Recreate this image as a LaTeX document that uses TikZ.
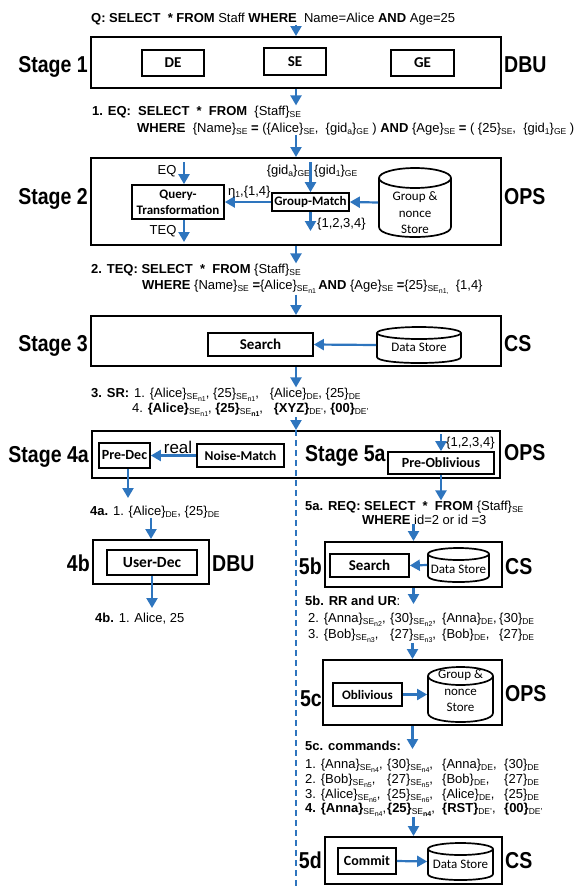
\documentclass[tikz,border=0pt]{standalone}
\usepackage{fontspec}
\setmainfont{Liberation Sans}
\newfontfamily\calf{Carlito}
\newfontfamily\stgf[FakeStretch=0.85]{Liberation Sans}
\usetikzlibrary{arrows.meta}
\definecolor{arrblue}{RGB}{46,117,190}
\newcommand\sbx[1]{\raisebox{-2.6pt}{\fontsize{8.5}{9}\selectfont #1}}
\newcommand\sbxx[2]{\raisebox{-2.6pt}{\fontsize{8.5}{9}\selectfont #1\raisebox{-2pt}{\fontsize{7}{7}\selectfont #2}}}
\newcommand\boxnode[7]{%
  \node[#1, minimum width={#5-#3}, minimum height={#6-#4}] (#2) at ({(#3+#5)/2},{(#4+#6)/2}) {#7};}
\newcommand\cylnode[6]{%
  \node[minimum width={#4-#2}, minimum height={#5-#3}, inner sep=0, outer sep=0.9pt] (#1) at ({(#2+#4)/2},{(#3+#5)/2}) {};
  \draw[line width=1.7pt] (#2,{#3+#6}) -- (#2,{#5-#6}) .. controls (#2,{#5+#6/3}) and (#4,{#5+#6/3}) .. (#4,{#5-#6}) -- (#4,{#3+#6});
  \draw[line width=1.7pt] ({(#2+#4)/2},{#3+#6}) ellipse [x radius={(#4-#2)/2}, y radius=#6];}
\begin{document}
\begin{tikzpicture}[x=1pt,y=-1pt,
  outer/.style={draw, line width=2pt, inner sep=0},
  inner/.style={draw, line width=1.7pt, inner sep=0, align=center},
  bfs/.style={font=\calf\bfseries\fontsize{#1}{16}\selectfont},
  arr/.style={draw=arrblue, line width=2.2pt, -{Triangle[length=10pt,width=11pt]}},
  stg/.style={font=\stgf\bfseries\fontsize{23}{26}\selectfont, inner sep=0},
  txt/.style={font=\fontsize{13}{15}\selectfont, inner sep=0, anchor=base west},
  lbl/.style={font=\fontsize{13}{15}\selectfont, inner sep=0},
  cyltxt/.style={font=\calf\fontsize{13}{16.5}\selectfont, align=center, inner sep=0},
  dsh/.style={draw=arrblue, line width=1.6pt, dash pattern=on 6pt off 4pt}]
\useasboundingbox (0,0) rectangle (576,887);

% ---------- query ----------
\node[txt] (q) at (91,22) {\textbf{Q: SELECT~~* FROM} Staff \textbf{WHERE}~~Name=Alice \textbf{AND} Age=25};

% ---------- Stage 1 ----------
\boxnode{outer}{s1}{91}{37}{501}{88}{}
\node[stg, anchor=base east] (s1l) at (88,72) {Stage 1};
\node[stg, anchor=base west] (s1r) at (504,72) {DBU};
\boxnode{inner,bfs=15}{de}{142}{50}{204}{76}{DE}
\boxnode{inner,bfs=15}{se}{264}{48}{326}{75}{SE}
\boxnode{inner,bfs=15}{ge}{391}{50}{454}{76}{GE}
\draw[arr] (q.south -| s1.north) -- (s1.north);

% ---------- EQ ----------
\node[txt] (eq1) at (92,115) {\textbf{1. EQ:~~SELECT~~*~~FROM}~~\{Staff\}\sbx{SE}};
\node[txt] (eq2) at (137,132) {\textbf{WHERE}~~\{Name\}\sbx{SE} \textbf{=} (\{Alice\}\sbx{SE},~~\{gid\sbx{a}\}\sbx{GE} ) \textbf{AND} \{Age\}\sbx{SE} \textbf{=} ( \{25\}\sbx{SE},~~\{gid\sbx{1}\}\sbx{GE} )};
\draw[arr] (s1.south) -- (s1.south |- eq1.north);

% ---------- Stage 2 ----------
\boxnode{outer}{s2}{91}{158}{501}{245}{}
\draw[arr] (s2.north |- eq2.south) -- (s2.north);
\node[stg, anchor=base east] (s2l) at (88,204) {Stage 2};
\node[stg, anchor=base west] (s2r) at (504,204) {OPS};
\boxnode{inner,bfs=13}{qt}{132}{185}{224}{219}{Query-\\Transformation}
\node[lbl] (eql) at (167,171) {EQ};
\coordinate (eqa) at (184,162);
\draw[arr] (eqa) -- (eqa |- qt.north);
\node[lbl] (teql) at (163,231) {TEQ};
\coordinate (teqa) at (184,242);
\draw[arr] (teqa |- qt.south) -- (teqa);
\boxnode{inner,bfs=13}{gm}{272}{193}{349}{211}{Group-Match}
\draw[arr] (gm.west) -- (qt.east);
\node[lbl, anchor=base west] (eta) at (228,195) {η\sbx{1},\{1,4\}};
\node[lbl, anchor=base east] (gida) at (310,174) {\{gid\sbx{a}\}\sbx{GE}};
\node[lbl, anchor=base west] (gid1) at (314,174) {\{gid\sbx{1}\}\sbx{GE}};
\coordinate (gma) at (312,162);
\draw[arr] (gm.north |- gma) -- (gm.north);
\coordinate (gmb) at (312,231);
\draw[arr] (gm.south) -- (gm.south |- gmb);
\node[lbl, anchor=base west] (gml) at (317,227) {\{1,2,3,4\}};
\cylnode{gs2}{379}{168}{451}{237}{10}
\node[cyltxt] (gs2t) at (415,213) {Group \&\\nonce\\Store};
\draw[arr] (gs2.west) -- (gm.east);

% ---------- TEQ ----------
\node[txt] (teq1) at (91,273) {\textbf{2. TEQ: SELECT~~*~~FROM} \{Staff\}\sbx{SE}};
\node[txt] (teq2) at (142,289) {\textbf{WHERE} \{Name\}\sbx{SE} \textbf{=}\{Alice\}\sbxx{SE}{n1}\,\textbf{AND} \{Age\}\sbx{SE} \textbf{=}\{25\}\sbxx{SE}{n1,}~~\{1,4\}};
\draw[arr] (s2.south) -- (s2.south |- teq1.north);

% ---------- Stage 3 ----------
\boxnode{outer}{s3}{91}{316}{501}{366}{}
\draw[arr] (s3.north |- teq2.south) -- (s3.north);
\node[stg, anchor=base east] (s3l) at (88,351) {Stage 3};
\node[stg, anchor=base west] (s3r) at (504,351) {CS};
\boxnode{inner,bfs=15}{sr3}{208}{333}{313}{356}{Search}
\cylnode{ds3}{377}{327}{461}{363}{6}
\node[cyltxt] (ds3t) at (419,347) {Data Store};
\draw[arr] (ds3.west) -- (sr3.east);

% ---------- SR ----------
\node[txt] (sr0) at (91,397) {\textbf{3. SR:}};
\node[txt] (sr1) at (134,397) {1. \{Alice\}\sbxx{SE}{n1}, \{25\}\sbxx{SE}{n1},~~~\{Alice\}\sbx{DE}, \{25\}\sbx{DE}};
\node[txt] (sr2) at (132,412) {4. \textbf{\{Alice\}}\sbxx{SE}{n1}, \textbf{\{25\}}\sbxx{SE}{\textbf{n1}},~~~\textbf{\{XYZ\}}\sbx{DE'}, \textbf{\{00\}}\sbx{DE'}};
\draw[arr] (s3.south) -- (s3.south |- sr1.north);

% ---------- Stage 4a / 5a ----------
\boxnode{outer}{s45}{92}{431}{500}{478}{}
\coordinate (dtop) at (296,417);
\coordinate (dbot) at (296,887);
\draw[arr, dash pattern=on 6pt off 4pt] (dtop) -- (s45.north);
\draw[dsh] (s45.north) -- (dbot);
\node[stg, anchor=base east] (s4l) at (89,462) {Stage 4a};
\node[stg, anchor=base west] (s5l) at (305,461) {Stage 5a};
\node[stg, anchor=base west] (s45r) at (504,460) {OPS};
\boxnode{inner,bfs=14}{pd}{99}{443}{150}{468}{Pre-Dec}
\boxnode{inner,bfs=13.5}{nm}{197}{444}{284}{467}{Noise-Match}
\draw[arr] (nm.west) -- (pd.east) node[pos=0.4, anchor=south, inner sep=0.5pt, font=\fontsize{17}{17}\selectfont] (real) {real};
\boxnode{inner,bfs=14}{po}{388}{452}{494}{474}{Pre-Oblivious}
\coordinate (poa) at (441,434);
\draw[arr] (poa) -- (po.north);
\node[lbl, anchor=base west] (pol) at (446,446) {\{1,2,3,4\}};

% ---------- 4a / 4b ----------
\coordinate (pda) at (128,498);
\draw[arr] (pda |- pd.south) -- (pda);
\node[txt] (t4a) at (90,515) {\textbf{4a.} 1. \{Alice\}\sbx{DE}, \{25\}\sbx{DE}};
\boxnode{outer}{b4}{93}{540}{209}{584}{}
\draw[arr] (b4.north |- t4a.south) -- (b4.north);
\node[stg, anchor=base east] (b4l) at (90,571) {4b};
\node[stg, anchor=base west] (b4r) at (212,571) {DBU};
\boxnode{inner,bfs=15.5}{ud}{107}{550}{197}{575}{User-Dec}
\coordinate (uda) at (152,608);
\draw[arr] (ud.south) -- (ud.south |- uda);
\node[txt] (t4b) at (95,622) {\textbf{4b.} 1. Alice, 25};

% ---------- 5a REQ / 5b ----------
\node[txt] (req1) at (305,510) {\textbf{5a. REQ: SELECT~~*~~FROM} \{Staff\}\sbx{SE}};
\node[txt] (req2) at (362,524) {\textbf{WHERE} id=2 or id =3};
\draw[arr] (po.south) -- (po.south |- req1.north);
\boxnode{outer}{b5}{325}{542}{502}{587}{}
\draw[arr] (b5.north |- req2.south) -- (b5.north);
\node[stg, anchor=base east] (b5l) at (322,574) {5b};
\node[stg, anchor=base west] (b5r) at (505,574) {CS};
\boxnode{inner,bfs=15}{sr5}{330}{554}{409}{577}{Search}
\cylnode{ds5}{428}{548}{489}{582}{6}
\node[cyltxt] (ds5t) at (458.5,569) {Data Store};
\draw[arr] (ds5.west) -- (sr5.east);

% ---------- 5b RR and UR ----------
\coordinate (b5a) at (413,604);
\draw[arr] (b5.south) -- (b5.south |- b5a);
\node[txt] (rr0) at (305,605) {\textbf{5b. RR and UR}:};
\node[txt] (rr2a) at (308,622) {2. \{Anna\}\sbxx{SE}{n2},};
\node[txt] (rr2b) at (390,622) {\{30\}\sbxx{SE}{n2},};
\node[txt] (rr2c) at (442,622) {\{Anna\}\sbx{DE},};
\node[txt] (rr2d) at (499,622) {\{30\}\sbx{DE}};
\node[txt] (rr3a) at (308,638) {3. \{Bob\}\sbxx{SE}{n3},};
\node[txt] (rr3b) at (390,638) {\{27\}\sbxx{SE}{n3},};
\node[txt] (rr3c) at (442,638) {\{Bob\}\sbx{DE},};
\node[txt] (rr3d) at (499,638) {\{27\}\sbx{DE}};

% ---------- 5c ----------
\boxnode{outer}{b5c}{323}{660}{502}{725}{}
\draw[arr] (b5c.north |- rr3b.south) -- (b5c.north);
\node[stg, anchor=base east] (b5cl) at (322,706) {5c};
\node[stg, anchor=base west] (b5cr) at (505,701) {OPS};
\boxnode{inner,bfs=13}{ob}{333}{683}{402}{706}{Oblivious}
\cylnode{gs5}{428}{667}{493}{722}{9}
\node[cyltxt] (gs5t) at (460.5,691) {Group \&\\nonce\\Store};
\draw[arr] (ob.east) -- (gs5.west);
\coordinate (b5ca) at (413,749);
\draw[arr] (b5c.south) -- (b5c.south |- b5ca);

% ---------- 5c commands ----------
\node[txt] (cm0) at (305,750) {\textbf{5c. commands:}};
\node[txt] (c1a) at (305,768) {1. \{Anna\}\sbxx{SE}{n4},};
\node[txt] (c1b) at (387,768) {\{30\}\sbxx{SE}{n4},};
\node[txt] (c1c) at (442,768) {\{Anna\}\sbx{DE},};
\node[txt] (c1d) at (504,768) {\{30\}\sbx{DE}};
\node[txt] (c2a) at (305,783) {2. \{Bob\}\sbxx{SE}{n5},};
\node[txt] (c2b) at (387,783) {\{27\}\sbxx{SE}{n5},};
\node[txt] (c2c) at (442,783) {\{Bob\}\sbx{DE},};
\node[txt] (c2d) at (504,783) {\{27\}\sbx{DE}};
\node[txt] (c3a) at (305,798) {3. \{Alice\}\sbxx{SE}{n6},};
\node[txt] (c3b) at (387,798) {\{25\}\sbxx{SE}{n6},};
\node[txt] (c3c) at (442,798) {\{Alice\}\sbx{DE},};
\node[txt] (c3d) at (504,798) {\{25\}\sbx{DE}};
\node[txt] (c4a) at (305,812) {\textbf{4. \{Anna\}}\sbxx{SE}{n4},};
\node[txt] (c4b) at (387,812) {\textbf{\{25\}}\sbxx{SE}{\textbf{n4}},};
\node[txt] (c4c) at (442,812) {\textbf{\{RST\}}\sbx{DE'},};
\node[txt] (c4d) at (504,812) {\textbf{\{00\}}\sbx{DE'}};

% ---------- 5d ----------
\boxnode{outer}{b5d}{325}{837}{502}{884}{}
\draw[arr] (b5d.north |- c4b.south) -- (b5d.north);
\node[stg, anchor=base east] (b5dl) at (322,868) {5d};
\node[stg, anchor=base west] (b5dr) at (505,868) {CS};
\boxnode{inner,bfs=14}{cm}{338}{848}{396}{874}{Commit}
\cylnode{ds5d}{428}{843}{493}{880}{6}
\node[cyltxt] (ds5dt) at (460.5,864) {Data Store};
\draw[arr] (cm.east) -- (ds5d.west);
\end{tikzpicture}
\end{document}
